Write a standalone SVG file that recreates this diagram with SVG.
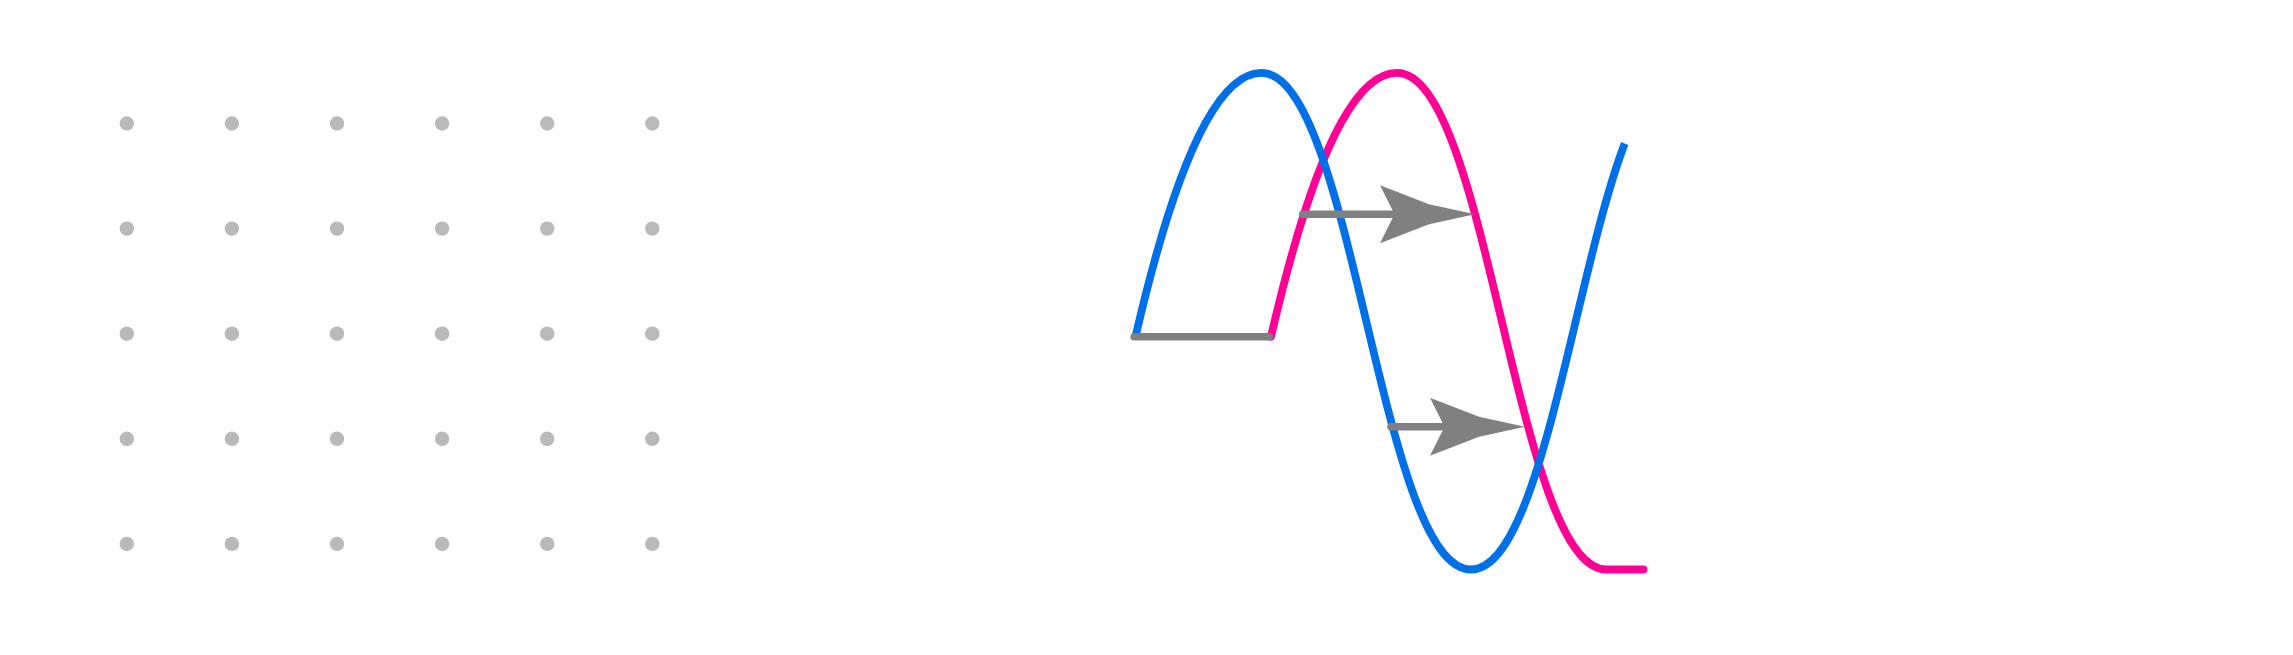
<svg xmlns="http://www.w3.org/2000/svg" width="2293" height="655" viewBox="0 0 2293 655">
  <style>
    .dot { fill: #b9b9b9; }
    .wave { fill: none; stroke-width: 7.8; stroke-linejoin: round; }
    .blue { stroke: #0070e8; stroke-linecap: butt; }
    .pink { stroke: #ff0096; stroke-linecap: round; }
    .gray { fill: none; stroke: #808080; stroke-width: 7.6; stroke-linecap: round; }
    .arrow { fill: none; stroke: #808080; stroke-width: 7.6; stroke-linecap: round; marker-end: url(#head); }
  </style>
  <defs>
    <marker id="head" viewBox="0 0 95 58" markerUnits="userSpaceOnUse" markerWidth="95" markerHeight="58" refX="18.5" refY="29" orient="auto">
      <path d="M95 29 L49 19 L0 0 L14.5 29 L0 58 L49 39 Z" fill="#808080"/>
    </marker>
  </defs>
  <rect width="2293" height="655" fill="#ffffff"/>
  <g id="grid">
    <circle class="dot" cx="126.8" cy="123.5" r="7.2"/>
    <circle class="dot" cx="231.9" cy="123.5" r="7.2"/>
    <circle class="dot" cx="337.0" cy="123.5" r="7.2"/>
    <circle class="dot" cx="442.1" cy="123.5" r="7.2"/>
    <circle class="dot" cx="547.2" cy="123.5" r="7.2"/>
    <circle class="dot" cx="652.3" cy="123.5" r="7.2"/>
    <circle class="dot" cx="126.8" cy="228.6" r="7.2"/>
    <circle class="dot" cx="231.9" cy="228.6" r="7.2"/>
    <circle class="dot" cx="337.0" cy="228.6" r="7.2"/>
    <circle class="dot" cx="442.1" cy="228.6" r="7.2"/>
    <circle class="dot" cx="547.2" cy="228.6" r="7.2"/>
    <circle class="dot" cx="652.3" cy="228.6" r="7.2"/>
    <circle class="dot" cx="126.8" cy="333.7" r="7.2"/>
    <circle class="dot" cx="231.9" cy="333.7" r="7.2"/>
    <circle class="dot" cx="337.0" cy="333.7" r="7.2"/>
    <circle class="dot" cx="442.1" cy="333.7" r="7.2"/>
    <circle class="dot" cx="547.2" cy="333.7" r="7.2"/>
    <circle class="dot" cx="652.3" cy="333.7" r="7.2"/>
    <circle class="dot" cx="126.8" cy="438.8" r="7.2"/>
    <circle class="dot" cx="231.9" cy="438.8" r="7.2"/>
    <circle class="dot" cx="337.0" cy="438.8" r="7.2"/>
    <circle class="dot" cx="442.1" cy="438.8" r="7.2"/>
    <circle class="dot" cx="547.2" cy="438.8" r="7.2"/>
    <circle class="dot" cx="652.3" cy="438.8" r="7.2"/>
    <circle class="dot" cx="126.8" cy="543.9" r="7.2"/>
    <circle class="dot" cx="231.9" cy="543.9" r="7.2"/>
    <circle class="dot" cx="337.0" cy="543.9" r="7.2"/>
    <circle class="dot" cx="442.1" cy="543.9" r="7.2"/>
    <circle class="dot" cx="547.2" cy="543.9" r="7.2"/>
    <circle class="dot" cx="652.3" cy="543.9" r="7.2"/>
  </g>
  <g id="pink-wave">
    <path class="wave pink" d="M1271 336.7 C1321.5 118 1365.5 72.8 1397 72.8 C1488 72.8 1515.5 569.5 1606.5 569.5 L1643.5 569.5"/>
  </g>
  <g id="blue-wave">
    <path class="wave blue" d="M1135.5 336.7 C1186 118 1230 72.8 1261.5 72.8 C1352.5 72.8 1380 569.5 1471 569.5 C1540.4 569.5 1572.9 280.7 1624.7 143.5"/>
  </g>
  <g id="baseline">
    <line class="gray" x1="1134.2" y1="336.7" x2="1269.2" y2="336.7"/>
  </g>
  <g id="connectors">
    <line class="arrow" x1="1302.7" y1="214.3" x2="1398.5" y2="214.3"/>
    <line class="arrow" x1="1391" y1="426.8" x2="1448.5" y2="426.8"/>
  </g>
</svg>
